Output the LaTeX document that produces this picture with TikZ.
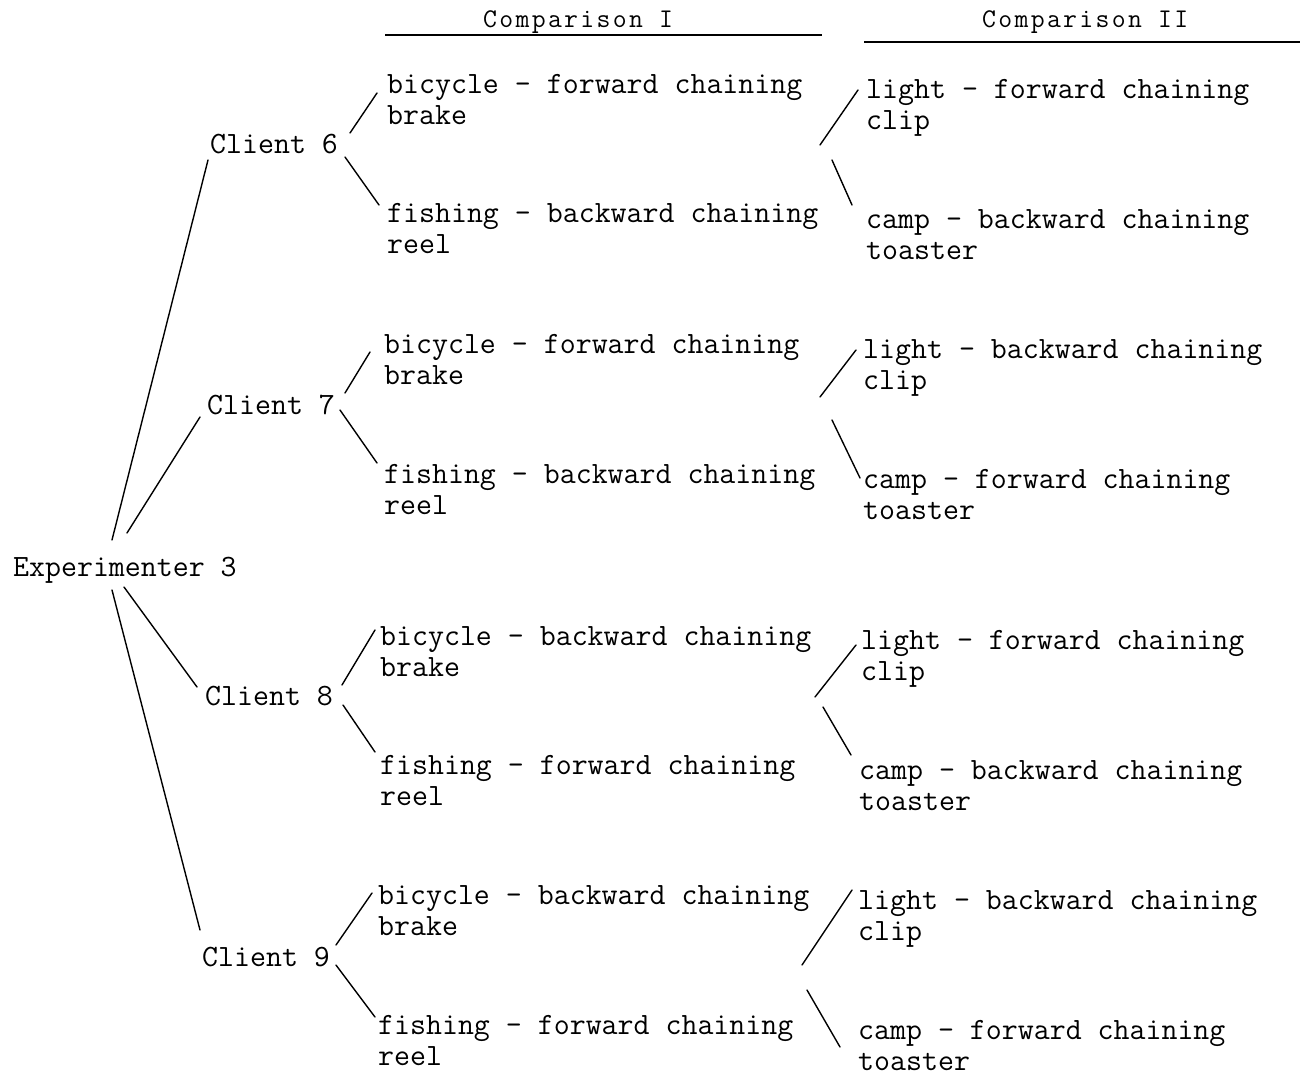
\documentclass[tikz,border=0pt]{standalone}
\usepackage{fontspec}
\newfontfamily\twhead[LetterSpace=8.5]{Latin Modern Mono}
\begin{document}
\begin{tikzpicture}[x=1pt,y=1pt,
  txt/.style={anchor=base west,inner sep=0pt,font=\ttfamily\fontsize{31}{31}\selectfont},
  head/.style={anchor=base west,inner sep=0pt,font=\twhead\fontsize{27}{28}\selectfont},
  conn/.style={line width=1.4pt,line cap=round},
  rule/.style={line width=1.1pt}]
\useasboundingbox (0,0) rectangle (1306,-1075);
\newcommand{\two}[2]{\begin{tabular}[t]{@{}l@{}}#1\\#2\end{tabular}}
% headers
\node[head] (h1) at (483,-28) {Comparison I};
\node[head] (h2) at (982,-28) {Comparison II};
\coordinate (u1a) at (385,-35); \coordinate (u1b) at (822,-35);
\coordinate (u2a) at (864,-42); \coordinate (u2b) at (1300,-42);
\draw[rule] (u1a) -- (u1b);
\draw[rule] (u2a) -- (u2b);
% root
\node[txt] (e3) at (13,-576) {Experimenter 3};
% clients
\node[txt] (c6) at (210,-154) {Client 6};
\node[txt] (c7) at (207,-414) {Client 7};
\node[txt] (c8) at (205,-705) {Client 8};
\node[txt] (c9) at (202,-966) {Client 9};
% group 6
\node[txt] (c6a) at (387,-94) {\two{bicycle - forward chaining}{brake}};
\node[txt] (c6b) at (387,-223) {\two{fishing - backward chaining}{reel}};
\node[txt] (c6c) at (866,-99) {\two{light - forward chaining}{clip}};
\node[txt] (c6d) at (866,-229) {\two{camp - backward chaining}{toaster}};
% group 7
\node[txt] (c7a) at (384,-353) {\two{bicycle - forward chaining}{brake}};
\node[txt] (c7b) at (384,-483) {\two{fishing - backward chaining}{reel}};
\node[txt] (c7c) at (863,-358) {\two{light - backward chaining}{clip}};
\node[txt] (c7d) at (863,-488) {\two{camp - forward chaining}{toaster}};
% group 8
\node[txt] (c8a) at (380,-645) {\two{bicycle - backward chaining}{brake}};
\node[txt] (c8b) at (380,-774) {\two{fishing - forward chaining}{reel}};
\node[txt] (c8c) at (861,-649) {\two{light - forward chaining}{clip}};
\node[txt] (c8d) at (859,-779) {\two{camp - backward chaining}{toaster}};
% group 9
\node[txt] (c9a) at (378,-904) {\two{bicycle - backward chaining}{brake}};
\node[txt] (c9b) at (378,-1034) {\two{fishing - forward chaining}{reel}};
\node[txt] (c9c) at (858,-909) {\two{light - backward chaining}{clip}};
\node[txt] (c9d) at (858,-1039) {\two{camp - forward chaining}{toaster}};
% connector end points
\coordinate (e6) at (112,-540); \coordinate (t6) at (208,-160);
\coordinate (e7) at (127,-533); \coordinate (t7) at (200,-417);
\coordinate (e8) at (124,-587); \coordinate (t8) at (197,-687);
\coordinate (e9) at (112,-590); \coordinate (t9) at (200,-930);
\draw[conn] (e6) -- (t6);
\draw[conn] (e7) -- (t7);
\draw[conn] (e8) -- (t8);
\draw[conn] (e9) -- (t9);
% group 6 branches
\coordinate (p6a) at (350,-133); \coordinate (q6a) at (377,-93);
\coordinate (p6b) at (345,-157); \coordinate (q6b) at (379,-205);
\coordinate (p6c) at (820,-145); \coordinate (q6c) at (858,-90);
\coordinate (p6d) at (832,-160); \coordinate (q6d) at (852,-205);
\draw[conn] (p6a) -- (q6a);
\draw[conn] (p6b) -- (q6b);
\draw[conn] (p6c) -- (q6c);
\draw[conn] (p6d) -- (q6d);
% group 7 branches
\coordinate (p7a) at (345,-393); \coordinate (q7a) at (370,-352);
\coordinate (p7b) at (340,-410); \coordinate (q7b) at (377,-463);
\coordinate (p7c) at (820,-397); \coordinate (q7c) at (856,-350);
\coordinate (p7d) at (832,-420); \coordinate (q7d) at (860,-478);
\draw[conn] (p7a) -- (q7a);
\draw[conn] (p7b) -- (q7b);
\draw[conn] (p7c) -- (q7c);
\draw[conn] (p7d) -- (q7d);
% group 8 branches
\coordinate (p8a) at (342,-685); \coordinate (q8a) at (375,-630);
\coordinate (p8b) at (343,-705); \coordinate (q8b) at (375,-752);
\coordinate (p8c) at (815,-697); \coordinate (q8c) at (856,-645);
\coordinate (p8d) at (823,-707); \coordinate (q8d) at (851,-755);
\draw[conn] (p8a) -- (q8a);
\draw[conn] (p8b) -- (q8b);
\draw[conn] (p8c) -- (q8c);
\draw[conn] (p8d) -- (q8d);
% group 9 branches
\coordinate (p9a) at (336,-945); \coordinate (q9a) at (372,-893);
\coordinate (p9b) at (336,-965); \coordinate (q9b) at (375,-1017);
\coordinate (p9c) at (802,-965); \coordinate (q9c) at (852,-890);
\coordinate (p9d) at (807,-990); \coordinate (q9d) at (840,-1047);
\draw[conn] (p9a) -- (q9a);
\draw[conn] (p9b) -- (q9b);
\draw[conn] (p9c) -- (q9c);
\draw[conn] (p9d) -- (q9d);
\end{tikzpicture}
\end{document}
